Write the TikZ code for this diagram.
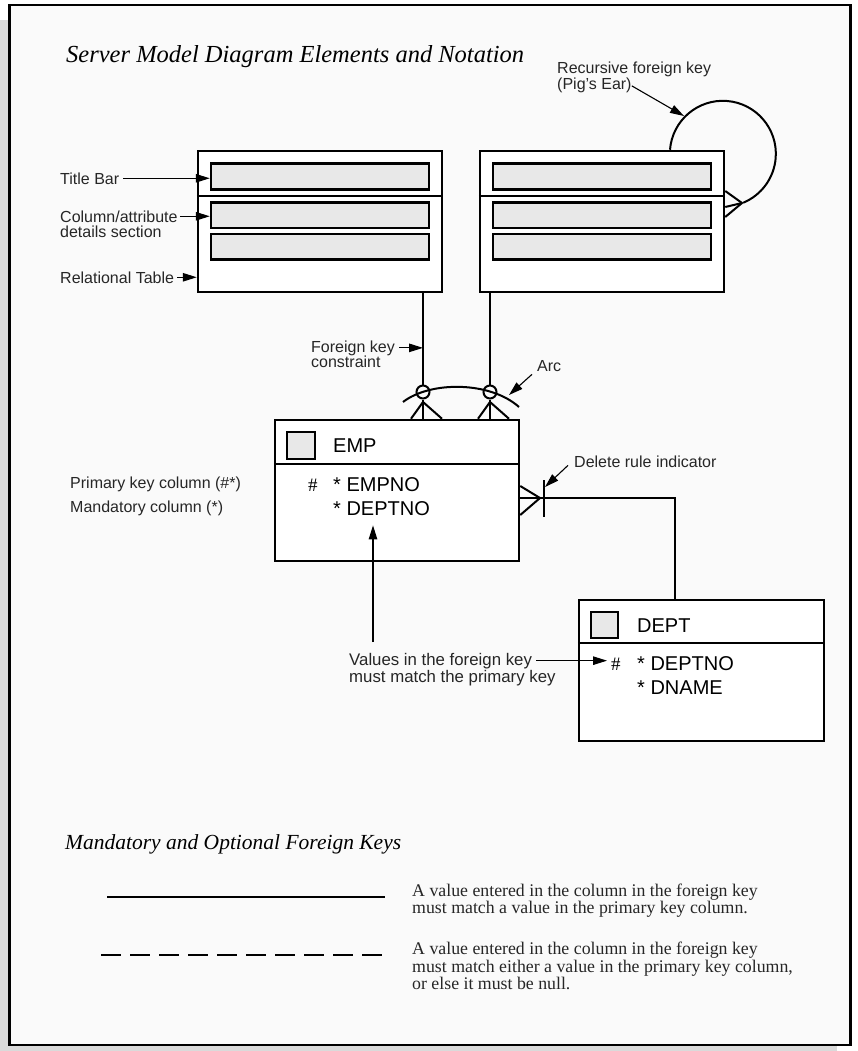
\documentclass[tikz,border=0pt]{standalone}
\usepackage{fontspec}
\setmainfont{Liberation Serif}
\setsansfont{Liberation Sans}
\usetikzlibrary{arrows.meta, calc, positioning}
\definecolor{paper}{HTML}{FAFAFA}
\definecolor{backdrop}{HTML}{DADADA}
\definecolor{bar}{HTML}{E8E8E8}
\definecolor{ink}{HTML}{262626}

\begin{document}
\begin{tikzpicture}[x=1pt, y=-1pt,
  lbl/.style={font=\sffamily\fontsize{#1}{16}\selectfont, text=ink, inner sep=0pt, anchor=base west},
  lbl/.default=16,
  fld/.style={font=\sffamily\fontsize{20}{24}\selectfont, inner sep=0pt, anchor=base west},
  hash/.style={font=\rmfamily\fontsize{19}{20}\selectfont, inner sep=0pt, anchor=base west},
  body/.style={font=\rmfamily\fontsize{17.8}{17.8}\selectfont, text=ink, inner sep=0pt, anchor=base west},
  head/.style={font=\rmfamily\itshape\fontsize{#1}{#1}\selectfont, inner sep=0pt, anchor=base west},
  head/.default=24.5,
  tbl/.style={draw, line width=2.5pt, fill=white, minimum width=244pt, minimum height=141pt, inner sep=0pt},
  cell/.style={draw, line width=2.5pt, fill=bar, minimum width=218pt, minimum height=25.5pt, inner sep=0pt},
  icon/.style={draw, line width=2.5pt, fill=bar, minimum width=27pt, minimum height=26pt, inner sep=0pt},
  conn/.style={line width=2pt},
  pointer/.style={line width=1.1pt, -{Triangle[length=14pt, width=8.5pt]}},
  opt/.style={circle, draw, line width=2pt, minimum size=13pt, inner sep=0pt}
]
\useasboundingbox (0,0) rectangle (858,1051);
\fill[backdrop] (-5,20) rectangle (837,1060);
\draw[line width=2.5pt, fill=paper] (9.5,5) rectangle (850.5,1045);

\node (T) [head] at (66,63) {Server Model Diagram Elements and Notation};

\node (A) [tbl] at (320,221.5) {};
\node (B) [tbl] at (602,221.5) {};
\draw[line width=2.5pt] (A.west |- 0,196) -- (A.east |- 0,196);
\draw[line width=2.5pt] (B.west |- 0,196) -- (B.east |- 0,196);
\node (A1) [cell] at (320,176.5) {};
\node (A2) [cell] at (320,215) {};
\node (A3) [cell] at (320,246.5) {};
\node (B1) [cell] at (602,176.5) {};
\node (B2) [cell] at (602,215) {};
\node (B3) [cell] at (602,246.5) {};

\coordinate (R) at (742,203);
\draw[conn] (B.north -| 670,0) arc[start angle=184.4, end angle=427.4, radius=53];
\draw[conn] (B.east |- 0,191) -- (R) -- (B.east |- 0,217);
\draw[conn] (B.east |- 0,207) -- (R);

\node (P1) [lbl] at (557,74) {Recursive foreign key};
\node (P2) [lbl] at ([yshift=-16pt]P1.base west) {(Pig's Ear)};
\coordinate (Pt) at (684,116);
\draw[pointer] (P2.east) -- (Pt);

\node (L1) [lbl] at (60,184) {Title Bar};
\draw[pointer] ([xshift=4pt]L1.east) -- (L1.east -| A1.west);
\node (L2) [lbl] at (60,222) {Column/attribute};
\node (L3) [lbl] at ([yshift=-15pt]L2.base west) {details section};
\draw[pointer] ([xshift=2pt]L2.east) -- (L2.east -| A2.west);
\node (L4) [lbl] at (60,283) {Relational Table};
\draw[pointer] ([xshift=3pt]L4.east) -- (L4.east -| A.west);

\node (E) [tbl] at (397,490.5) {};
\draw[line width=2.5pt] (E.west |- 0,464) -- (E.east |- 0,464);
\node (Ei) [icon, minimum width=28pt, minimum height=27pt] at (301,445.5) {};
\node (En) [fld] at (333,452) {EMP};
\node (Eh) [hash] at (308,491) {\#};
\node (Ek) [fld] at (333,491) {* EMPNO};
\node (Ed) [fld] at (333,515) {* DEPTNO};

\node (oA) [opt] at (423,392) {};
\node (oB) [opt] at (490,392) {};
\draw[conn] (A.south -| oA) -- (oA) -- (E.north -| oA);
\draw[conn] (B.south -| oB) -- (oB) -- (E.north -| oB);
\coordinate (cA) at (423,402);
\coordinate (cB) at (490,402);
\draw[conn] ($(E.north -| oA)+(-12,0)$) -- (cA) -- ($(E.north -| oA)+(19,0)$);
\draw[conn] ($(E.north -| oB)+(-12,0)$) -- (cB) -- ($(E.north -| oB)+(19,0)$);
\draw[conn] (403,402) .. controls (430,381) and (490,381) .. (519,407);

\node (F1) [lbl] at (311,352) {Foreign key};
\node (F2) [lbl] at ([yshift=-15pt]F1.base west) {constraint};
\draw[pointer] ([xshift=4pt]F1.east) -- (F1.east -| oA);
\node (Ar) [lbl] at (537,371) {Arc};
\coordinate (Ap) at (509,395);
\draw[pointer] ($(Ar.south west)+(-5,3)$) -- (Ap);

\node (M1) [lbl] at (70,488) {Primary key column (\#*)};
\node (M2) [lbl] at (70,512) {Mandatory column (*)};

\node (K) [tbl, minimum width=245pt] at (701.5,670.5) {};
\draw[line width=2.5pt] (K.west |- 0,643) -- (K.east |- 0,643);
\node (Ki) [icon] at (604.5,625) {};
\node (Kn) [fld] at (637,632) {DEPT};
\node (Kh) [hash] at (611,670) {\#};
\node (Kd) [fld] at (637,670) {* DEPTNO};
\node (Km) [fld] at (637,694) {* DNAME};

\coordinate (D0) at (540,498);
\coordinate (Kc) at (675,498);
\draw[conn] (E.east |- 0,486) -- (D0) -- (E.east |- 0,515);
\draw[conn] (E.east |- D0) -- (D0) -- (Kc) -- (K.north -| Kc);
\draw[conn] (544,480) -- (544,517);
\node (Dl) [lbl] at (574,467) {Delete rule indicator};
\coordinate (Dp) at (545,487);
\draw[pointer] ($(Dl.south west)+(-6,-2)$) -- (Dp);

\node (V1) [lbl=16.8] at (349,665) {Values in the foreign key};
\node (V2) [lbl=16.8] at ([yshift=-17pt]V1.base west) {must match the primary key};
\draw[pointer] ([xshift=4pt]V1.east) -- ($(V1.east -| Kh.west)+(-4,0)$);
\coordinate (Vb) at (373,642);
\draw[pointer, shorten >=10pt] (Vb) -- (Ed.south -| Vb);

\node (T2) [head=21.5] at (65,849) {Mandatory and Optional Foreign Keys};
\draw[line width=1.3pt] (107,897) -- (385,897);
\draw[line width=1.3pt, dash pattern=on 20pt off 9pt] (101,955) -- (383,955);
\node (S1) [body] at (412,896) {A value entered in the column in the foreign key};
\node (S2) [body] at ([yshift=-17pt]S1.base west) {must match a value in the primary key column.};
\node (O1) [body] at (412,954) {A value entered in the column in the foreign key};
\node (O2) [body] at ([yshift=-18pt]O1.base west) {must match either a value in the primary key column,};
\node (O3) [body] at ([yshift=-17pt]O2.base west) {or else it must be null.};
\end{tikzpicture}
\end{document}
